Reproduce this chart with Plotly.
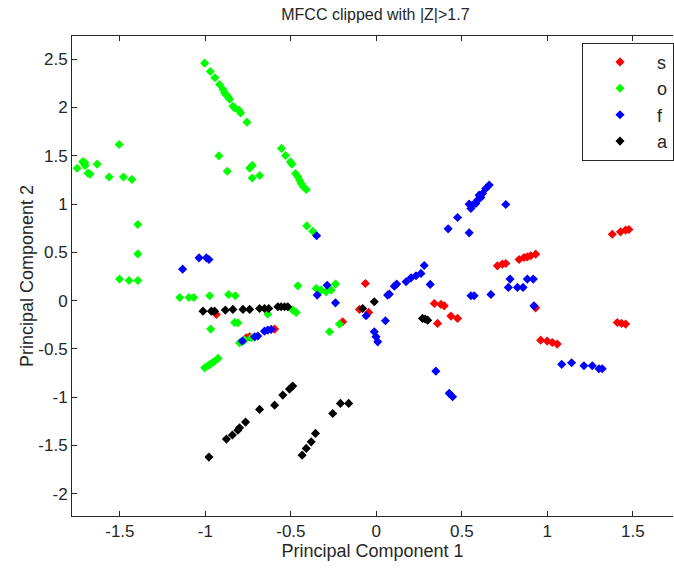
import plotly.graph_objects as go

# Principal-component scores per class (PC1, PC2)
s_x = [-0.936, -0.761, -0.741, -0.595, -0.197, -0.064, -0.099, -0.045,
       0.339, 0.378, 0.397, 0.358, 0.436, 0.475,
       0.708, 0.737, 0.757, 0.835, 0.864, 0.883, 0.903, 0.932,
       0.932, 0.961, 0.999, 1.029, 1.058,
       1.380, 1.428, 1.458, 1.477, 1.409, 1.434, 1.458]
s_y = [-0.143, -0.385, -0.375, -0.295, -0.219, 0.178, -0.091, -0.122,
       -0.029, -0.039, -0.054, -0.236, -0.160, -0.184,
       0.360, 0.378, 0.385, 0.426, 0.447, 0.453, 0.464, 0.481,
       -0.075, -0.409, -0.419, -0.433, -0.450,
       0.688, 0.712, 0.730, 0.737, -0.226, -0.236, -0.243]

o_x = [-1.750, -1.718, -1.705, -1.703, -1.687, -1.675, -1.633, -1.563, -1.504, -1.479, -1.430,
       -1.004, -0.971, -0.944, -0.917, -0.897, -0.887, -0.877, -0.868, -0.858, -0.839, -0.829,
       -0.804, -0.794, -0.757,
       -0.921, -0.872, -0.741, -0.726, -0.726, -0.683,
       -0.555, -0.531, -0.502, -0.494, -0.473, -0.459, -0.449, -0.440, -0.430, -0.410,
       -0.407, -0.372,
       -1.395, -1.395, -1.502, -1.446, -1.395,
       -1.150, -1.096, -1.068, -0.975, -0.864, -0.825,
       -0.635, -0.969, -0.829, -0.810,
       -1.004, -0.990, -0.976, -0.960, -0.945, -0.926,
       -0.800, -0.771, -0.731,
       -0.459, -0.489, -0.469,
       -0.352, -0.323, -0.294, -0.264, -0.239,
       -0.216, -0.274]
o_y = [1.370, 1.437, 1.430, 1.400, 1.320, 1.310, 1.413, 1.280, 1.617, 1.280, 1.255,
       2.459, 2.373, 2.307, 2.238, 2.186, 2.151, 2.127, 2.110, 2.086, 2.013, 1.996,
       1.972, 1.944, 1.848,
       1.499, 1.340, 1.372, 1.400, 1.270, 1.296,
       1.576, 1.503, 1.437, 1.413, 1.317, 1.282, 1.247, 1.213, 1.185, 1.151,
       0.774, 0.719,
       0.789, 0.484, 0.223, 0.209, 0.209,
       0.033, 0.033, 0.033, 0.050, 0.064, 0.050,
       -0.140, -0.295, -0.226, -0.230,
       -0.696, -0.680, -0.665, -0.645, -0.625, -0.598,
       -0.437, -0.409, -0.385,
       0.153, -0.098, -0.122,
       0.126, 0.109, 0.091, 0.109, 0.171,
       -0.243, -0.323]

f_x = [-1.133, -1.037, -0.994, -0.979,
       -0.784, -0.712, -0.693, -0.654, -0.635, -0.615,
       -0.349, -0.288, -0.346, -0.239,
       -0.060, -0.012, -0.002, 0.008, 0.053,
       0.066, 0.076, 0.105, 0.119,
       0.174, 0.203, 0.232, 0.261, 0.280, 0.315,
       0.420, 0.475, 0.543,
       0.660, 0.640, 0.621, 0.601, 0.611, 0.591, 0.582, 0.562, 0.543, 0.553, 0.757,
       0.782, 0.883, 0.918, 0.772, 0.825, 0.858,
       0.553, 0.572, 0.670, 0.922,
       0.348, 0.426, 0.446,
       1.084, 1.142, 1.214, 1.263, 1.302, 1.321]
f_y = [0.326, 0.443, 0.443, 0.426,
       -0.419, -0.375, -0.367, -0.316, -0.305, -0.298,
       0.671, 0.160, 0.057, -0.023,
       -0.157, -0.323, -0.375, -0.427, -0.209,
       0.057, 0.067, 0.150, 0.171,
       0.195, 0.236, 0.257, 0.282, 0.364, 0.168,
       0.743, 0.861, 0.702,
       1.196, 1.161, 1.110, 1.092, 1.068, 1.040, 1.006, 0.989, 0.999, 0.954, 0.996,
       0.223, 0.223, 0.223, 0.137, 0.137, 0.137,
       0.050, 0.050, 0.064, -0.054,
       -0.730, -0.960, -0.996,
       -0.660, -0.644, -0.675, -0.675, -0.706, -0.706]

a_x = [-1.014, -0.965, -0.946, -0.883, -0.839, -0.780, -0.741, -0.683, -0.654, -0.629,
       -0.576, -0.557, -0.537, -0.518,
       -0.012, -0.080, 0.270, 0.285, 0.300,
       -0.979, -0.877, -0.842, -0.810, -0.800, -0.765, -0.683, -0.595, -0.547, -0.508, -0.489,
       -0.255, -0.210, -0.162, -0.356, -0.381, -0.410, -0.434]
a_y = [-0.109, -0.109, -0.109, -0.098, -0.091, -0.091, -0.091, -0.081, -0.081, -0.081,
       -0.064, -0.064, -0.064, -0.064,
       -0.012, -0.081, -0.184, -0.190, -0.202,
       -1.620, -1.434, -1.392, -1.341, -1.317, -1.258, -1.126, -1.082, -0.978, -0.916, -0.885,
       -1.168, -1.064, -1.064, -1.375, -1.462, -1.530, -1.600]

series = [
    ("s", s_x, s_y, "#ff0000"),
    ("o", o_x, o_y, "#00ff00"),
    ("f", f_x, f_y, "#0000ff"),
    ("a", a_x, a_y, "#000000"),
]

x_ticks = [-1.5, -1, -0.5, 0, 0.5, 1, 1.5]
y_ticks = [-2, -1.5, -1, -0.5, 0, 0.5, 1, 1.5, 2, 2.5]

FONT = "Liberation Sans"
INK = "#262626"

fig = go.Figure()
for name, xs, ys, col in series:
    fig.add_trace(go.Scatter(
        x=xs, y=ys, mode="markers", name=name, legendgroup=name,
        marker=dict(symbol="diamond", size=7, color=col, line=dict(width=0)),
    ))

axis_common = dict(
    showline=True, linecolor=INK, linewidth=1,
    ticks="inside", ticklen=5, tickcolor=INK,
    showgrid=False, zeroline=False,
    tickfont=dict(family=FONT, size=17, color=INK),
)

fig.update_layout(
    width=674, height=568,
    margin=dict(l=72, r=0, t=36, b=52),
    paper_bgcolor="white", plot_bgcolor="white",
    title=dict(text="MFCC clipped with |Z|>1.7", x=0.557, xanchor="center",
               y=0.975, yanchor="middle",
               font=dict(family=FONT, size=16, color=INK)),
    xaxis=dict(range=[-1.78, 1.735], tickvals=x_ticks,
               ticktext=[f"{v:g}" for v in x_ticks], mirror="ticks",
               title=dict(text="Principal Component 1", standoff=2,
                          font=dict(family=FONT, size=18, color=INK)),
               **axis_common),
    yaxis=dict(range=[-2.23, 2.74], tickvals=y_ticks,
               ticktext=[f"{v:g}" for v in y_ticks],
               title=dict(text="Principal Component 2", standoff=0,
                          font=dict(family=FONT, size=18, color=INK)),
               **axis_common),
    legend=dict(x=0.849, y=0.986, xanchor="left", yanchor="top",
                bgcolor="white", bordercolor=INK, borderwidth=1,
                tracegroupgap=0, itemwidth=64,
                font=dict(family=FONT, size=18, color=INK)),
    showlegend=True,
)

fig.write_html("out.html")
